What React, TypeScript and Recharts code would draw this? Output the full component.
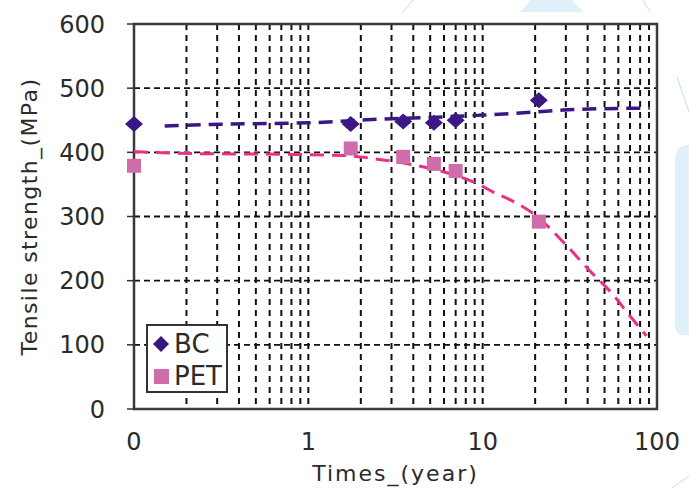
import {
  ComposedChart,
  Line,
  Scatter,
  XAxis,
  YAxis,
  CartesianGrid,
  ReferenceArea,
  Legend,
} from 'recharts';

// measured points (years, MPa)
const TIMES = [0.1, 1.75, 3.5, 5.25, 7, 21];
const BC_VALUES = [444, 444, 448, 446, 450, 481];
const PET_VALUES = [379, 406, 393, 382, 371, 292];

// trend curves
const BC_TREND_T = [0.15, 0.34, 1, 2.3, 10, 18, 36, 91];
const BC_TREND_V = [441, 444, 446, 451, 458, 462, 467, 469];
const PET_TREND_T = [0.1, 0.23, 0.7, 1.6, 2.4, 3.4, 5, 7.4, 9.7, 11.5, 14.4, 19.4, 30, 40, 56, 70, 87];
const PET_TREND_V = [401, 398, 397, 395, 390, 384, 375, 362, 349, 338, 326, 305, 256, 219, 178, 145, 114];

const DECADE_TICKS = [0.1, 1, 10, 100];
const DECADE_LABELS = ['0', '1', '10', '100'];
const MINOR_TICKS = [
  0.2, 0.3, 0.4, 0.5, 0.6, 0.7, 0.8, 0.9,
  2, 3, 4, 5, 6, 7, 8, 9,
  20, 30, 40, 50, 60, 70, 80, 90,
];
const Y_TICKS = [0, 100, 200, 300, 400, 500, 600];

const X_TICKS = [...DECADE_TICKS, ...MINOR_TICKS].sort((a, b) => a - b);

const bcPoints = TIMES.map((t, i) => ({ t, v: BC_VALUES[i] }));
const petPoints = TIMES.map((t, i) => ({ t, v: PET_VALUES[i] }));
const bcTrend = BC_TREND_T.map((t, i) => ({ t, v: BC_TREND_V[i] }));
const petTrend = PET_TREND_T.map((t, i) => ({ t, v: PET_TREND_V[i] }));

const FONT = '"DejaVu Sans", sans-serif';
const TEXT = '#2b2b2b';
const BC_COLOR = '#3b1786';
const PET_DOT = '#d06ca9';
const PET_LINE = '#ea2f86';

const Diamond = (p: any) => (
  <polygon
    points={`${p.cx},${p.cy - 8} ${p.cx + 9},${p.cy} ${p.cx},${p.cy + 8} ${p.cx - 9},${p.cy}`}
    fill={BC_COLOR}
  />
);

const Square = (p: any) => (
  <rect x={p.cx - 7} y={p.cy - 7} width={14} height={14} fill={PET_DOT} />
);

function LegendBox() {
  const row = { display: 'flex', alignItems: 'center', height: 32 } as const;
  return (
    <div
      style={{
        width: 82,
        height: 69,
        border: '2px solid #333',
        background: '#fff',
        fontFamily: FONT,
        fontSize: 26,
        color: TEXT,
        padding: '2px 0 0 4px',
        boxSizing: 'border-box',
      }}
    >
      <div style={row}>
        <svg width={20} height={20}>
          <polygon points="9,2 17,10 9,18 1,10" fill={BC_COLOR} />
        </svg>
        <span style={{ marginLeft: 2 }}>BC</span>
      </div>
      <div style={row}>
        <svg width={20} height={20}>
          <rect x={2} y={3} width={15} height={15} fill={PET_DOT} />
        </svg>
        <span style={{ marginLeft: 2 }}>PET</span>
      </div>
    </div>
  );
}

function Backdrop() {
  const fill = '#dff0fb';
  const line = '#b9dff5';
  return (
    <svg width={689} height={488} style={{ position: 'absolute', left: 0, top: 0 }}>
      <polygon points="520,12 531,0 572,0 583,12" fill={fill} />
      <line x1={402} y1={13} x2={413} y2={0} stroke={line} strokeWidth={1} />
      <line x1={643} y1={0} x2={650} y2={12} stroke={line} strokeWidth={1} />
      <line x1={677} y1={77} x2={689} y2={112} stroke={line} strokeWidth={1} />
      <path d="M675,160 Q675,145 689,145 L689,335 L683,335 Q675,335 675,325 Z" fill={fill} />
      <line x1={672} y1={488} x2={689} y2={476} stroke={line} strokeWidth={1} />
    </svg>
  );
}

export default function App() {
  return (
    <div style={{ position: 'absolute', left: 0, top: 0, width: 689, height: 488, background: '#fff' }}>
      <Backdrop />
      <div style={{ position: 'absolute', left: 0, top: 0 }}>
        <ComposedChart width={689} height={488} margin={{ top: 24, right: 32, bottom: 0, left: 0 }}>
          <CartesianGrid vertical={false} stroke="#111" strokeDasharray="6 4" strokeWidth={1.8} />
          <CartesianGrid horizontal={false} stroke="#111" strokeDasharray="6 5" strokeWidth={2} />
          <XAxis
            dataKey="t"
            type="number"
            scale="log"
            domain={[0.1, 100]}
            ticks={X_TICKS}
            interval={0}
            height={79}
            axisLine={false}
            tickLine={false}
            tickSize={0}
            tickMargin={24}
            tick={{ fontFamily: FONT, fontSize: 24, fill: TEXT }}
            tickFormatter={(v: number) => {
              const i = DECADE_TICKS.indexOf(v);
              return i >= 0 ? DECADE_LABELS[i] : '';
            }}
            label={{
              value: 'Times_(year)',
              position: 'insideBottom',
              offset: 7,
              style: { fontFamily: FONT, fontSize: 22, fill: TEXT, letterSpacing: 2 },
            }}
          />
          <YAxis
            type="number"
            domain={[0, 600]}
            ticks={Y_TICKS}
            interval={0}
            width={134}
            axisLine={false}
            tickSize={7}
            tickMargin={22}
            tickLine={{ stroke: '#333', strokeWidth: 1.5 }}
            tick={{ fontFamily: FONT, fontSize: 24, fill: TEXT }}
            label={{
              value: 'Tensile strength_(MPa)',
              angle: -90,
              position: 'insideLeft',
              offset: 29,
              style: { fontFamily: FONT, fontSize: 22, fill: TEXT, letterSpacing: 1.4, textAnchor: 'middle' },
            }}
          />
          <ReferenceArea x1={0.1} x2={100} y1={0} y2={600} fill="none" stroke="#3a3a3a" strokeWidth={2.5} />
          <Line
            data={bcTrend}
            dataKey="v"
            type="monotone"
            stroke={BC_COLOR}
            strokeWidth={3.5}
            strokeDasharray="14 8"
            dot={false}
            activeDot={false}
            isAnimationActive={false}
            legendType="none"
          />
          <Line
            data={petTrend}
            dataKey="v"
            type="monotone"
            stroke={PET_LINE}
            strokeWidth={3}
            strokeDasharray="14 8"
            dot={false}
            activeDot={false}
            isAnimationActive={false}
            legendType="none"
          />
          <Scatter name="BC" data={bcPoints} dataKey="v" shape={Diamond} isAnimationActive={false} />
          <Scatter name="PET" data={petPoints} dataKey="v" shape={Square} isAnimationActive={false} />
          <Legend
            layout="horizontal"
            verticalAlign="middle"
            align="center"
            content={() => <LegendBox />}
            wrapperStyle={{ position: 'absolute', left: 146, top: 324, width: 'auto', height: 'auto' }}
          />
        </ComposedChart>
      </div>
    </div>
  );
}
